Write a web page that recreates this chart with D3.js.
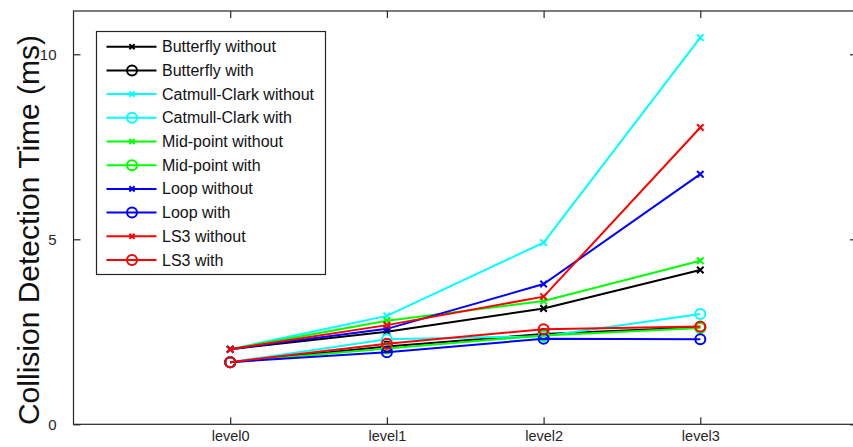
<!DOCTYPE html>
<html>
<head>
<meta charset="utf-8">
<script src="https://cdn.jsdelivr.net/npm/d3@7"></script>
<style>
  body { margin: 0; background: white; }
  svg { display: block; font-family: "Liberation Sans", Arial, sans-serif; }
</style>
</head>
<body>
<svg width="853" height="447"></svg>
<script>
// data
var levels = ["level0", "level1", "level2", "level3"];
var seriesNames = ["Butterfly without", "Butterfly with", "Catmull-Clark without", "Catmull-Clark with",
    "Mid-point without", "Mid-point with", "Loop without", "Loop with", "LS3 without", "LS3 with"];
var seriesColors = ["#000000", "#000000", "#00ffff", "#00ffff", "#00ff00", "#00ff00", "#0000ff", "#0000ff", "#ff0000", "#ff0000"];
var seriesMarkers = ["x", "o", "x", "o", "x", "o", "x", "o", "x", "o"];
var butterflyWithout = [2.03, 2.50, 3.13, 4.17];
var butterflyWith = [1.68, 2.10, 2.44, 2.62];
var catmullWithout = [2.03, 2.93, 4.91, 10.45];
var catmullWith = [1.68, 2.30, 2.38, 2.98];
var midWithout = [2.03, 2.80, 3.33, 4.42];
var midWith = [1.68, 2.05, 2.40, 2.60];
var loopWithout = [2.03, 2.58, 3.79, 6.76];
var loopWith = [1.68, 1.95, 2.31, 2.30];
var ls3Without = [2.03, 2.68, 3.45, 8.02];
var ls3With = [1.68, 2.18, 2.57, 2.64];
var yTicks = [0, 5, 10];

var seriesValues = [butterflyWithout, butterflyWith, catmullWithout, catmullWith,
    midWithout, midWith, loopWithout, loopWith, ls3Without, ls3With];

var svg = d3.select("svg");

var x = d3.scaleLinear().domain([0, 5]).range([73.5, 857]);
var y = d3.scaleLinear().domain([0, 11.17]).range([424.3, 11]);
var tickLen = 7;

// axes box (right edge is just outside the window)
svg.append("rect")
    .attr("x", x(0)).attr("y", y(11.17))
    .attr("width", x(5) - x(0)).attr("height", y(0) - y(11.17))
    .attr("fill", "none").attr("stroke", "#262626").attr("stroke-width", 1.2);

// bottom + top ticks, pointing inward
var xAxisB = d3.axisBottom(x).tickValues([1, 2, 3, 4]).tickSizeInner(-tickLen).tickSizeOuter(0)
    .tickPadding(6).tickFormat(function(d) { return levels[d - 1]; });
var gx = svg.append("g").attr("transform", "translate(0," + y(0) + ")").call(xAxisB);
gx.select(".domain").remove();
gx.selectAll("line").attr("stroke", "#262626").attr("stroke-width", 1.2);
gx.selectAll("text").attr("font-size", 14.5).attr("fill", "#262626")
    .attr("font-family", "'Liberation Sans', Arial, sans-serif");

var xAxisT = d3.axisTop(x).tickValues([1, 2, 3, 4]).tickSizeInner(-tickLen).tickSizeOuter(0).tickFormat("");
var gxt = svg.append("g").attr("transform", "translate(0," + y(11.17) + ")").call(xAxisT);
gxt.select(".domain").remove();
gxt.selectAll("line").attr("stroke", "#262626").attr("stroke-width", 1.2);

// left + right ticks
var yAxisL = d3.axisLeft(y).tickValues(yTicks).tickSizeInner(-tickLen).tickSizeOuter(0).tickPadding(tickLen + 10);
var gy = svg.append("g").attr("transform", "translate(" + x(0) + ",0)").call(yAxisL);
gy.select(".domain").remove();
gy.selectAll("line").attr("stroke", "#262626").attr("stroke-width", 1.2);
gy.selectAll("text").attr("font-size", 15).attr("fill", "#262626")
    .attr("font-family", "'Liberation Sans', Arial, sans-serif");

var yAxisR = d3.axisRight(y).tickValues(yTicks).tickSizeInner(-tickLen).tickSizeOuter(0).tickFormat("");
var gyr = svg.append("g").attr("transform", "translate(" + x(5) + ",0)").call(yAxisR);
gyr.select(".domain").remove();
gyr.selectAll("line").attr("stroke", "#262626").attr("stroke-width", 1.2);

// y label
svg.append("text")
    .attr("transform", "translate(39,230) rotate(-90)")
    .attr("text-anchor", "middle")
    .attr("font-size", 30)
    .attr("fill", "#111")
    .text("Collision Detection Time (ms)");

function drawMarker(g, kind, cx, cy, color, size) {
    if (kind == "o") {
        g.append("circle").attr("cx", cx).attr("cy", cy).attr("r", size)
            .attr("fill", "none").attr("stroke", color).attr("stroke-width", 2);
    } else {
        var s = size * 0.65;
        g.append("path")
            .attr("d", "M" + (cx - s) + "," + (cy - s) + "L" + (cx + s) + "," + (cy + s) +
                "M" + (cx - s) + "," + (cy + s) + "L" + (cx + s) + "," + (cy - s))
            .attr("stroke", color).attr("stroke-width", 2);
    }
}

// series
var line = d3.line()
    .x(function(d, i) { return x(i + 1); })
    .y(function(d) { return y(d); });

for (var k = 0; k < seriesValues.length; k++) {
    var g = svg.append("g");
    g.append("path")
        .attr("d", line(seriesValues[k]))
        .attr("fill", "none")
        .attr("stroke", seriesColors[k])
        .attr("stroke-width", 2);
    for (var i = 0; i < seriesValues[k].length; i++) {
        drawMarker(g, seriesMarkers[k], x(i + 1), y(seriesValues[k][i]), seriesColors[k], 5);
    }
}

// legend
var leg = svg.append("g");
leg.append("rect")
    .attr("x", 96.5).attr("y", 31.5).attr("width", 229).attr("height", 243)
    .attr("fill", "white").attr("stroke", "#262626").attr("stroke-width", 1.2);

for (var k = 0; k < seriesNames.length; k++) {
    var ly = 46.7 + 23.7 * k;
    leg.append("line")
        .attr("x1", 106.5).attr("x2", 156.5).attr("y1", ly).attr("y2", ly)
        .attr("stroke", seriesColors[k]).attr("stroke-width", 2);
    drawMarker(leg, seriesMarkers[k], 132, ly, seriesColors[k], seriesMarkers[k] == "o" ? 5 : 4);
    leg.append("text")
        .attr("x", 162).attr("y", ly + 5.5)
        .attr("font-size", 16)
        .attr("fill", "#111")
        .text(seriesNames[k]);
}
</script>
</body>
</html>
